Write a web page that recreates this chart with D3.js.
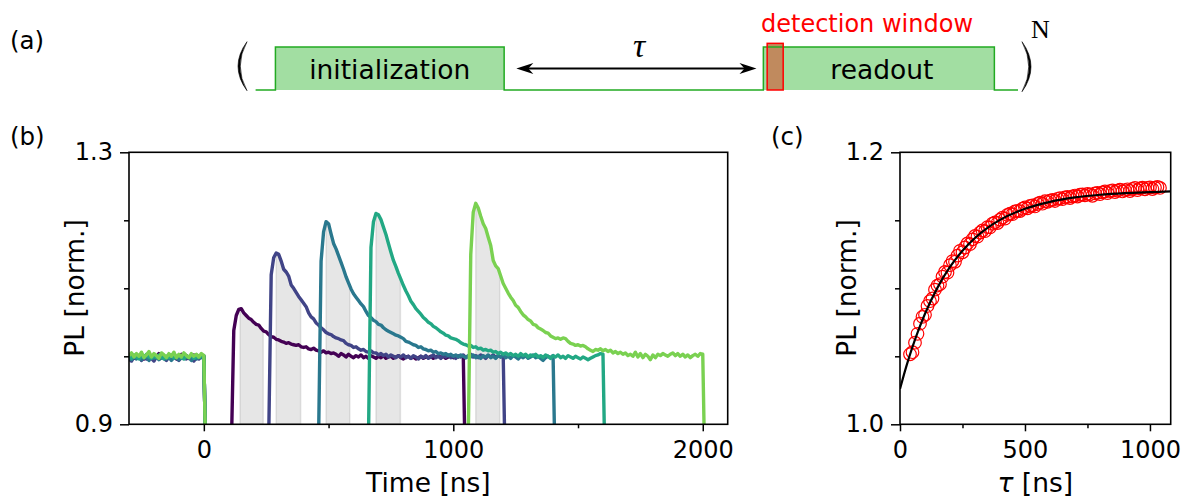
<!DOCTYPE html>
<html>
<head>
<meta charset="utf-8">
<script src="https://cdn.jsdelivr.net/npm/d3@7"></script>
<style>
  html, body { margin: 0; padding: 0; background: #fff; }
  svg { display: block; font-family: "DejaVu Sans", sans-serif; }
</style>
</head>
<body>
<svg id="fig" width="1188" height="499"></svg>
<script>
// ---------------------------------------------------------------
// Panel (b): PL transients, sampled every 10 ns.
// Baseline segment runs from -300 ns to +10 ns (laser switched off at 0).
// Readout segment starts when the laser comes back on.
// ---------------------------------------------------------------
const SAMPLE_NS = 10;
const BASELINE_START = -300;

const baselineA = [0.999,1.002,0.997,1.001,0.998,1.003,0.996,1.000,1.002,0.997,1.001,0.999,1.004,0.998,1.000,0.997,1.002,0.999,1.001,0.996,1.000,1.003,0.998,1.001,0.997,1.000,1.002,0.998,1.001,0.999,1.000,0.80];
const baselineB = [0.996,0.993,0.999,0.997,1.001,0.994,0.998,0.996,1.000,0.997,0.993,0.999,0.996,1.000,0.997,0.994,0.999,0.996,1.001,0.997,0.994,0.998,1.000,0.996,0.999,0.997,0.993,0.998,0.996,1.000,0.999,0.80];
const baselineC = [0.998,0.995,1.000,0.996,0.999,0.995,1.001,0.998,0.994,0.999,0.997,1.000,0.995,0.998,1.001,0.996,0.999,0.994,0.998,1.000,0.995,0.999,0.997,1.001,0.998,0.994,0.999,0.996,1.000,0.998,1.001,0.80];
const baselineD = [1.000,0.997,1.002,0.999,0.996,1.001,0.998,1.003,0.999,0.997,1.001,0.998,1.002,0.999,0.996,1.000,0.998,1.002,0.997,0.999,1.001,0.998,0.996,1.000,0.999,1.002,0.997,1.000,0.998,1.001,1.000,0.80];
const baselineE = [1.001,1.005,0.999,1.004,1.000,1.006,0.998,1.002,1.007,0.999,1.004,1.001,0.997,1.005,1.002,0.998,1.004,1.000,1.006,0.998,1.003,0.999,1.005,1.001,0.998,1.004,1.000,1.003,0.999,1.004,1.001,0.80];

// laser-on times [ns] for each dark interval
const readoutStart = [110, 260, 460, 660, 1060];

const readoutA = [0.86,1.038,1.060,1.069,1.070,1.064,1.060,1.056,1.054,1.050,
  1.047,1.046,1.041,1.037,1.036,1.032,1.029,1.028,1.025,1.024,
  1.022,1.021,1.019,1.020,1.018,1.017,1.016,1.017,1.014,1.013,
  1.014,1.011,1.010,1.012,1.009,1.008,1.006,1.008,1.005,1.006,
  1.004,1.005,1.003,1.000,1.004,1.002,0.999,1.003,1.000,0.998,
  1.001,0.999,1.002,0.998,1.000,0.997,1.001,0.999,0.997,1.000,
  0.998,1.001,0.997,0.999,1.000,0.997,0.999,1.001,0.998,0.996,
  0.999,1.000,0.997,0.999,0.996,0.998,1.000,0.997,0.999,0.998,
  1.000,0.997,0.999,1.001,0.998,1.000,0.997,0.999,1.001,0.998,
  1.000,0.999,1.001,1.000,0.80];
const readoutB = [0.88,1.120,1.145,1.152,1.150,1.140,1.128,1.124,1.118,1.105,
  1.100,1.094,1.088,1.083,1.078,1.073,1.064,1.058,1.055,1.049,
  1.046,1.042,1.039,1.035,1.033,1.032,1.029,1.027,1.026,1.024,
  1.023,1.019,1.017,1.016,1.013,1.014,1.011,1.009,1.010,1.007,
  1.006,1.008,1.005,1.005,1.002,1.004,1.001,1.003,0.999,1.002,
  1.000,0.998,1.001,0.999,1.002,0.998,1.000,0.997,1.001,0.999,
  0.996,1.000,0.998,1.001,0.997,0.999,1.002,0.998,1.000,0.997,
  1.001,0.999,1.002,0.998,1.000,0.997,1.001,0.999,1.002,0.998,
  1.000,1.003,0.999,1.001,0.998,1.002,1.000,0.997,1.001,0.999,
  1.002,0.998,1.001,0.999,1.002,0.80];
const readoutC = [0.88,1.140,1.183,1.198,1.195,1.180,1.166,1.158,1.148,1.138,
  1.128,1.117,1.108,1.099,1.092,1.087,1.082,1.077,1.073,1.066,
  1.060,1.057,1.053,1.051,1.047,1.046,1.042,1.039,1.037,1.035,
  1.033,1.031,1.030,1.028,1.026,1.022,1.021,1.019,1.017,1.016,
  1.013,1.014,1.011,1.010,1.008,1.009,1.006,1.007,1.004,1.005,
  1.003,1.004,1.001,1.003,1.000,1.002,0.999,1.002,1.000,0.998,
  1.001,0.999,1.002,0.998,1.000,0.997,1.001,0.999,1.002,0.998,
  1.000,0.997,1.001,0.999,1.002,0.998,1.000,0.997,1.001,0.999,
  0.996,1.000,0.998,1.001,0.997,0.999,1.002,0.998,1.000,0.997,
  0.994,0.998,1.000,0.998,1.001,0.80];
const readoutD = [0.88,1.160,1.198,1.210,1.208,1.201,1.190,1.179,1.166,1.153,
  1.141,1.132,1.122,1.113,1.104,1.096,1.089,1.081,1.076,1.070,
  1.066,1.062,1.057,1.054,1.050,1.048,1.044,1.042,1.039,1.036,
  1.034,1.031,1.030,1.027,1.026,1.025,1.023,1.020,1.018,1.017,
  1.015,1.016,1.013,1.014,1.011,1.012,1.009,1.010,1.008,1.009,
  1.006,1.007,1.004,1.006,1.003,1.005,1.002,1.004,1.001,1.003,
  1.000,1.004,1.001,1.003,0.999,1.002,1.000,1.003,0.999,1.001,
  0.998,1.002,1.000,0.997,1.001,0.999,1.002,0.998,1.000,0.997,
  1.001,0.999,0.997,1.000,0.998,0.996,0.999,0.997,0.995,0.997,
  0.999,1.001,1.002,1.004,1.003,0.80];
const readoutE = [0.88,1.150,1.212,1.225,1.218,1.206,1.195,1.188,1.175,1.163,
  1.141,1.133,1.129,1.118,1.107,1.100,1.093,1.087,1.082,1.075,
  1.072,1.066,1.061,1.058,1.054,1.052,1.047,1.046,1.042,1.040,
  1.038,1.035,1.034,1.030,1.028,1.026,1.027,1.025,1.027,1.026,
  1.022,1.019,1.018,1.016,1.017,1.015,1.016,1.014,1.011,1.009,
  1.007,1.010,1.009,1.011,1.008,1.010,1.007,1.009,1.005,1.007,
  1.004,1.006,1.003,1.005,1.001,1.003,1.000,1.006,0.999,1.004,
  0.998,1.003,1.000,0.995,1.002,0.998,1.003,1.001,1.004,1.002,
  1.000,1.003,1.005,1.001,1.004,1.000,1.003,0.999,1.002,0.998,
  1.001,1.003,1.000,1.004,1.003,0.80];

// integration windows shaded under each transient [ns]
const windowStart = [145, 290, 490, 690, 1090];
const windowEnd   = [238, 388, 585, 788, 1186];

// ---------------------------------------------------------------
// Panel (c): integrated PL vs dark time tau, with exponential fit
// ---------------------------------------------------------------
const tauPoints = [40,50,60,70,80,90,100,110,120,130,140,150,160,170,180,190,200,210,220,230,
  240,250,260,270,280,290,300,310,320,330,340,350,360,370,380,390,400,410,420,430,
  440,450,460,470,480,490,500,510,520,530,540,550,560,570,580,590,600,610,620,630,
  640,650,660,670,680,690,700,710,720,730,740,750,760,770,780,790,800,810,820,830,
  840,850,860,870,880,890,900,910,920,930,940,950,960,970,980,990,1000,1010,1020,1030,1040];
const plPoints = [1.0515,1.0530,1.0600,1.0665,1.0740,1.0790,1.0805,1.0870,1.0905,1.0925,
  1.0990,1.1020,1.1030,1.1085,1.1120,1.1115,1.1170,1.1200,1.1195,1.1240,
  1.1275,1.1265,1.1300,1.1330,1.1325,1.1360,1.1385,1.1380,1.1410,1.1425,
  1.1420,1.1450,1.1448,1.1475,1.1485,1.1480,1.1505,1.1520,1.1512,1.1540,
  1.1548,1.1545,1.1565,1.1570,1.1568,1.1585,1.1595,1.1588,1.1605,1.1610,
  1.1602,1.1620,1.1630,1.1622,1.1640,1.1636,1.1645,1.1650,1.1642,1.1658,
  1.1662,1.1655,1.1668,1.1672,1.1664,1.1676,1.1682,1.1675,1.1688,1.1690,
  1.1683,1.1695,1.1690,1.1680,1.1698,1.1702,1.1692,1.1705,1.1712,1.1700,
  1.1715,1.1720,1.1708,1.1718,1.1725,1.1712,1.1722,1.1728,1.1715,1.1730,
  1.1738,1.1722,1.1735,1.1740,1.1728,1.1738,1.1742,1.1730,1.1740,1.1745,1.1738];
const fitTau = [0,25,50,75,100,150,200,250,300,350,400,500,600,700,800,900,1000,1083];
const fitPL  = [1.026,1.0424,1.0569,1.0698,1.0813,1.1005,1.1157,1.1276,1.1370,1.1444,1.1503,1.1585,1.1636,1.1668,1.1688,1.1700,1.1707,1.1712];

// tick values
const bXMajor = [0, 1000, 2000], bXMinor = [500, 1500];
const bYMajor = [0.9, 1.3],      bYMinor = [1.0, 1.1, 1.2];
const cXMajor = [0, 500, 1000],  cXMinor = [250, 750];
const cYMajor = [1.0, 1.2],      cYMinor = [1.05, 1.1, 1.15];

// ---------------------------------------------------------------
// Panel (a): pulse-sequence schematic (arbitrary time units)
// ---------------------------------------------------------------
const seqPulses = [
  { name: "initialization", start: 26, end: 326 },
  { name: "readout", start: 666, end: 969 }
];
const seqDetection = [671, 692];
const seqArrow = [342, 657];

// ---------------------------------------------------------------
const svg = d3.select("#fig");
const FONT = "'DejaVu Sans', sans-serif";
const TICK_FS = 24, LABEL_FS = 26.5, PANEL_FS = 24.5;

const traces = [
  { base: baselineA, read: readoutA },
  { base: baselineB, read: readoutB },
  { base: baselineC, read: readoutC },
  { base: baselineD, read: readoutD },
  { base: baselineE, read: readoutE }
].map((tr, i) => {
  const pts = tr.base.map((v, k) => [BASELINE_START + k * SAMPLE_NS, v])
    .concat(tr.read.map((v, k) => [readoutStart[i] + k * SAMPLE_NS, v]));
  return { pts, color: d3.interpolateViridis(i / 5), ws: windowStart[i], we: windowEnd[i] };
});

function drawFrame(g, x, y, xMaj, xMin, yMaj, yMin, xFmt, yFmt) {
  const [x0, x1] = x.range(), [y0, y1] = y.range();
  const xa = g.append("g").attr("transform", `translate(0,${y0})`)
    .call(d3.axisBottom(x).tickValues(xMaj).tickSize(7).tickPadding(10).tickFormat(xFmt));
  const xm = g.append("g").attr("transform", `translate(0,${y0})`)
    .call(d3.axisBottom(x).tickValues(xMin).tickSize(4).tickFormat(""));
  const ya = g.append("g").attr("transform", `translate(${x0},0)`)
    .call(d3.axisLeft(y).tickValues(yMaj).tickSize(9).tickPadding(7).tickFormat(yFmt));
  const ym = g.append("g").attr("transform", `translate(${x0},0)`)
    .call(d3.axisLeft(y).tickValues(yMin).tickSize(5).tickFormat(""));
  [xa, xm, ya, ym].forEach(a => {
    a.select(".domain").remove();
    a.attr("font-family", FONT).attr("font-size", TICK_FS);
    a.selectAll("line").attr("stroke", "#000").attr("stroke-width", 1.5);
    a.selectAll("text").attr("fill", "#000");
  });
  g.append("rect").attr("x", x0).attr("y", y1)
    .attr("width", x1 - x0).attr("height", y0 - y1)
    .attr("fill", "none").attr("stroke", "#000").attr("stroke-width", 1.6);
}

// ================= Panel (b) =================
const xb = d3.scaleLinear().domain([-300, 2100]).range([129, 727.7]);
const yb = d3.scaleLinear().domain([0.9, 1.3]).range([424.3, 152.3]);
const gb = svg.append("g");
gb.append("clipPath").attr("id", "clipB").append("rect")
  .attr("x", 129).attr("y", 152.3).attr("width", 727.7 - 129).attr("height", 424.3 - 152.3);
const plotB = gb.append("g").attr("clip-path", "url(#clipB)");

function interpAt(pts, t) {
  for (let k = 1; k < pts.length; k++) {
    if (pts[k][0] >= t && pts[k - 1][0] <= t) {
      const f = (t - pts[k - 1][0]) / (pts[k][0] - pts[k - 1][0]);
      return pts[k - 1][1] + f * (pts[k][1] - pts[k - 1][1]);
    }
  }
  return pts[pts.length - 1][1];
}

const windowArea = d3.area().x(d => xb(d[0])).y0(yb(0.9)).y1(d => yb(d[1]));
traces.forEach(tr => {
  const inner = tr.pts.filter(p => p[0] > tr.ws && p[0] < tr.we);
  const wpts = [[tr.ws, interpAt(tr.pts, tr.ws)], ...inner, [tr.we, interpAt(tr.pts, tr.we)]];
  plotB.append("path").attr("d", windowArea(wpts))
    .attr("fill", "rgba(128,128,128,0.2)")
    .attr("stroke", "rgba(128,128,128,0.2)").attr("stroke-width", 1.5);
});

const lineB = d3.line().x(d => xb(d[0])).y(d => yb(d[1]));
traces.forEach(tr => {
  plotB.append("path").attr("d", lineB(tr.pts))
    .attr("fill", "none").attr("stroke", tr.color)
    .attr("stroke-width", 3.4).attr("stroke-linejoin", "round");
});

drawFrame(gb, xb, yb, bXMajor, bXMinor, bYMajor, bYMinor, d3.format("d"), d3.format(".1f"));

gb.append("text").attr("x", 428.4).attr("y", 492).attr("text-anchor", "middle")
  .attr("font-size", LABEL_FS).text("Time [ns]");
gb.append("text").attr("transform", "translate(75,288) rotate(-90)")
  .attr("text-anchor", "middle").attr("dy", "0.35em")
  .attr("font-size", LABEL_FS).text("PL [norm.]");
gb.append("text").attr("x", 10).attr("y", 145).attr("font-size", PANEL_FS).text("(b)");

// ================= Panel (c) =================
const xc = d3.scaleLinear().domain([0, 1083]).range([900, 1170.7]);
const yc = d3.scaleLinear().domain([1.0, 1.2]).range([424.3, 152.3]);
const gc = svg.append("g");
gc.append("clipPath").attr("id", "clipC").append("rect")
  .attr("x", 900).attr("y", 152.3).attr("width", 270.7).attr("height", 272);
const plotC = gc.append("g").attr("clip-path", "url(#clipC)");

plotC.selectAll("circle").data(tauPoints).join("circle")
  .attr("cx", d => xc(d)).attr("cy", (d, i) => yc(plPoints[i])).attr("r", 6.3)
  .attr("fill", "none").attr("stroke", "#ff0000").attr("stroke-width", 1.2);

const fitLine = d3.line().x(d => xc(d[0])).y(d => yc(d[1])).curve(d3.curveMonotoneX);
plotC.append("path").attr("d", fitLine(fitTau.map((t, i) => [t, fitPL[i]])))
  .attr("fill", "none").attr("stroke", "#000").attr("stroke-width", 2.2);

drawFrame(gc, xc, yc, cXMajor, cXMinor, cYMajor, cYMinor, d3.format("d"), d3.format(".1f"));

const cxl = gc.append("text").attr("x", 1035.3).attr("y", 492).attr("text-anchor", "middle")
  .attr("font-size", LABEL_FS);
cxl.append("tspan").attr("font-style", "italic").text("τ");
cxl.append("tspan").text(" [ns]");
gc.append("text").attr("transform", "translate(846.7,288) rotate(-90)")
  .attr("text-anchor", "middle").attr("dy", "0.35em")
  .attr("font-size", LABEL_FS).text("PL [norm.]");
gc.append("text").attr("x", 771).attr("y", 145).attr("font-size", PANEL_FS).text("(c)");

// ================= Panel (a) =================
const xs = d3.scaleLinear().domain([0, 1000]).range([255.6, 1018]);
const ys = d3.scaleLinear().domain([0, 1]).range([90, 47]);
const ga = svg.append("g");
ga.append("text").attr("x", 10).attr("y", 49).attr("font-size", PANEL_FS).text("(a)");

// box fills
seqPulses.forEach(p => {
  ga.append("rect").attr("x", xs(p.start)).attr("y", ys(1))
    .attr("width", xs(p.end) - xs(p.start)).attr("height", ys(0) - ys(1))
    .attr("fill", "#a2dea2");
});
// detection window
ga.append("rect").attr("x", xs(seqDetection[0])).attr("y", ys(1.085))
  .attr("width", xs(seqDetection[1]) - xs(seqDetection[0])).attr("height", ys(0) - ys(1.085))
  .attr("fill", "#c08a5e");

// laser level trace
const seqPts = [[0, 0]];
seqPulses.forEach(p => { seqPts.push([p.start, 0], [p.start, 1], [p.end, 1], [p.end, 0]); });
seqPts.push([1000, 0]);
ga.append("path").attr("d", d3.line().x(d => xs(d[0])).y(d => ys(d[1]))(seqPts))
  .attr("fill", "none").attr("stroke", "#22aa22").attr("stroke-width", 1.5);
// detection outline on top of the level trace
ga.append("rect").attr("x", xs(seqDetection[0])).attr("y", ys(1.085))
  .attr("width", xs(seqDetection[1]) - xs(seqDetection[0])).attr("height", ys(0) - ys(1.085))
  .attr("fill", "none").attr("stroke", "#ff0000").attr("stroke-width", 1.5);

seqPulses.forEach(p => {
  ga.append("text").attr("x", (xs(p.start) + xs(p.end)) / 2 + (p.name === "readout" ? 3 : 0))
    .attr("y", 79.3).attr("text-anchor", "middle").attr("font-size", LABEL_FS).text(p.name);
});
ga.append("text").attr("x", 867).attr("y", 31.5).attr("text-anchor", "middle")
  .attr("font-size", 24).attr("fill", "#ff0000").text("detection window");

// double arrow for tau
const ay = ys(0.5);
const a0 = xs(seqArrow[0]), a1 = xs(seqArrow[1]);
ga.append("line").attr("x1", a0 + 8).attr("x2", a1 - 8).attr("y1", ay).attr("y2", ay)
  .attr("stroke", "#000").attr("stroke-width", 2);
function head(tipX, dir) {
  const L = 17, H = 5.5, N = 12;
  return `M${tipX},${ay} L${tipX + dir * L},${ay - H} L${tipX + dir * N},${ay} L${tipX + dir * L},${ay + H} Z`;
}
ga.append("path").attr("d", head(a0, 1)).attr("fill", "#000");
ga.append("path").attr("d", head(a1, -1)).attr("fill", "#000");
ga.append("text").attr("x", 639).attr("y", 56.5).attr("text-anchor", "middle")
  .attr("font-family", "'Liberation Serif', serif")
  .attr("font-size", 34).attr("font-style", "italic").text("τ");

// big brackets around the sequence with repetition count
ga.append("path").attr("d", "M247,41.7 Q229,66.2 247,90.7 Q233.5,66.2 247,41.7 Z")
  .attr("fill", "#000").attr("stroke", "#000").attr("stroke-width", 0.6);
ga.append("path").attr("d", "M1022,41.7 Q1040,66.7 1022,91.7 Q1035.5,66.7 1022,41.7 Z")
  .attr("fill", "#000").attr("stroke", "#000").attr("stroke-width", 0.6);
ga.append("text").attr("x", 1031).attr("y", 38.3)
  .attr("font-family", "'Liberation Serif', serif").attr("font-size", 26).text("N");
</script>
</body>
</html>
